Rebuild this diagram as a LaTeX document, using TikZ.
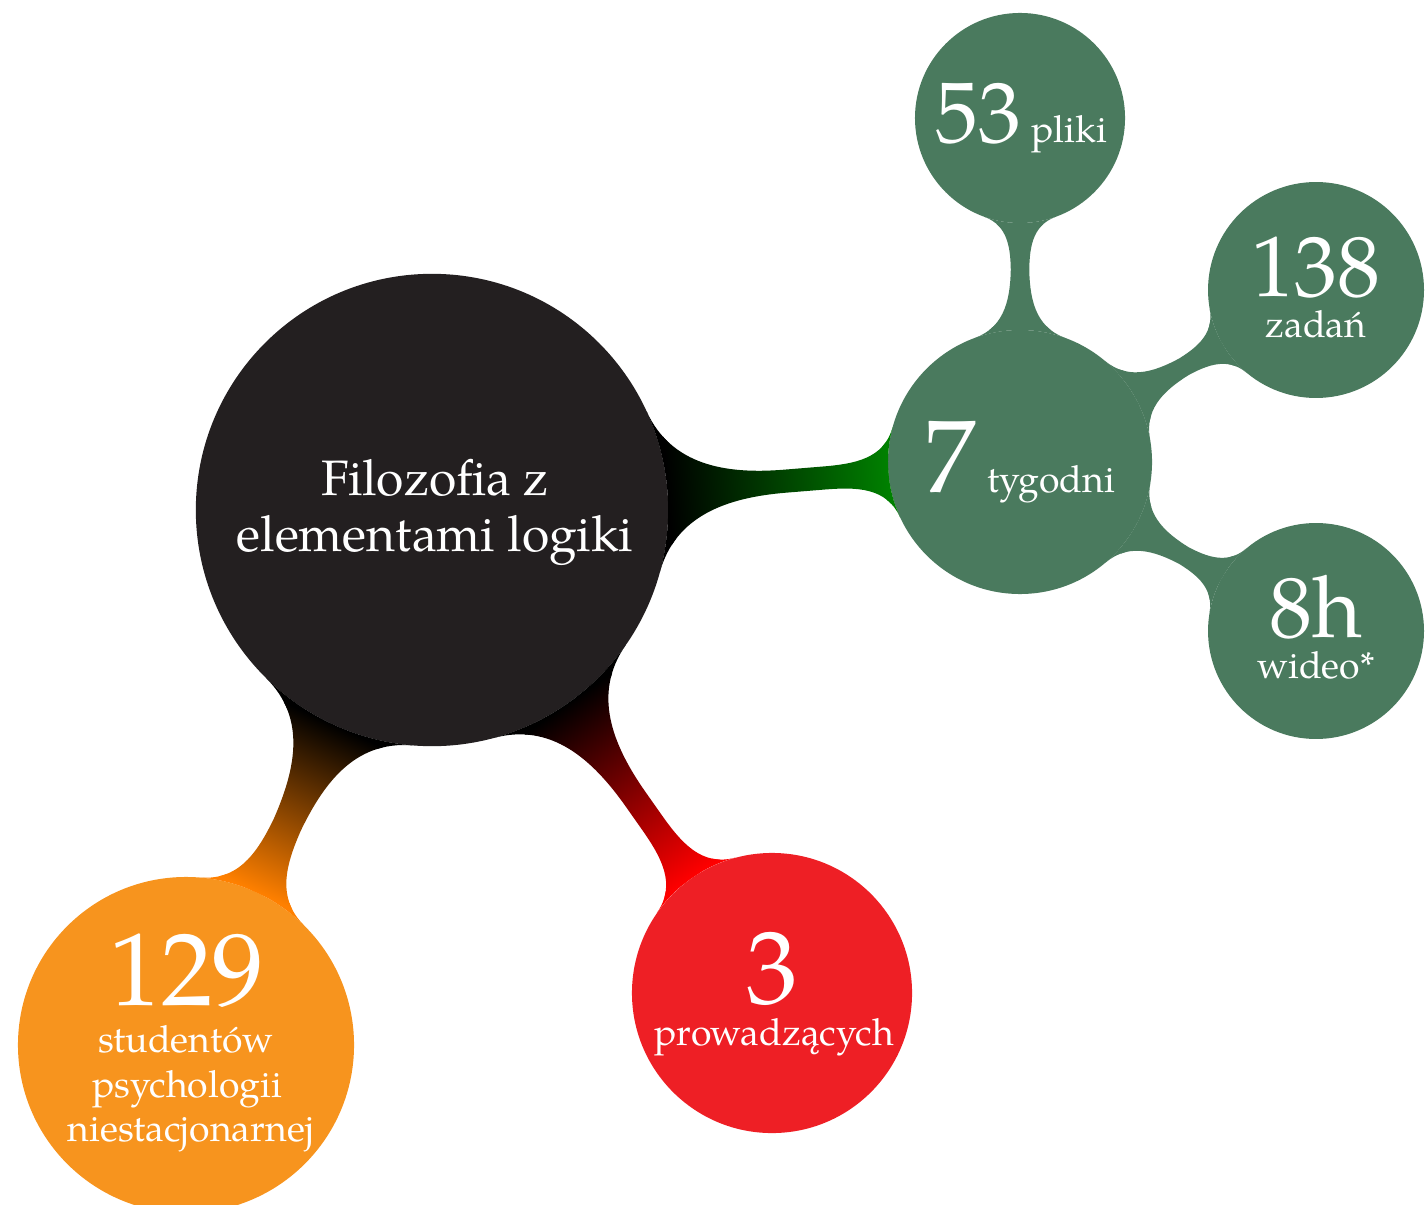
\documentclass[tikz,border=0pt]{standalone}
\usepackage{fontspec}
\setmainfont{TeX Gyre Pagella}
\usetikzlibrary{mindmap}
\definecolor{rootc}{HTML}{231F20}
\definecolor{greenc}{HTML}{4A7A5E}
\definecolor{orangec}{HTML}{F7941E}
\definecolor{redc}{HTML}{EE1F25}
\definecolor{bargreen}{RGB}{0,128,0}
\definecolor{barorange}{RGB}{255,128,0}
\definecolor{barred}{RGB}{255,0,0}
\begin{document}
\begin{tikzpicture}[x=0.00847cm,y=-0.00847cm,
  bubble/.style={circle, inner sep=0pt, outer sep=0pt, draw=none, text width=0pt},
  lbl/.style={text=white, anchor=base, inner sep=0pt},
  bigf/.style={font=\fontsize{24.9}{26}\selectfont},
  midf/.style={font=\fontsize{20.7}{22}\selectfont},
  smallf/.style={font=\fontsize{9}{11}\selectfont},
  rootf/.style={font=\fontsize{12}{14}\selectfont}]
\useasboundingbox (0,0) rectangle (1427,1204);
% bubbles
\node[bubble, fill=rootc, minimum size=4cm] (root) at (432,510) {};
\node[bubble, fill=greenc, minimum size=2.236cm] (week) at (1020,462) {};
\node[bubble, fill=greenc, minimum size=1.779cm] (pliki) at (1020,118) {};
\node[bubble, fill=greenc, minimum size=1.829cm] (zadan) at (1316,290) {};
\node[bubble, fill=greenc, minimum size=1.829cm] (wideo) at (1316,631) {};
\node[bubble, fill=orangec, minimum size=2.846cm] (stud) at (186,1045) {};
\node[bubble, fill=redc, minimum size=2.372cm] (prow) at (772,993) {};
% connections
\path (root) to[circle connection bar switch color=from (black) to (bargreen)] (week);
\path (root) to[circle connection bar switch color=from (black) to (barorange)] (stud);
\path (root) to[circle connection bar switch color=from (black) to (barred)] (prow);
\path (week) to[circle connection bar switch color=from (greenc) to (greenc)] (pliki);
\path (week) to[circle connection bar switch color=from (greenc) to (greenc)] (zadan);
\path (week) to[circle connection bar switch color=from (greenc) to (greenc)] (wideo);
% texts
\node[lbl, rootf] (rootT1) at (435,495) {Filozofia z};
\node[lbl, rootf] (rootT2) at (435,551) {elementami logiki};
\node[lbl] (weekT) at (1020,492) {{\fontsize{24.9}{26}\selectfont 7} {\fontsize{9}{11}\selectfont tygodni}};
\node[lbl] (plikiT) at (1021,143) {{\fontsize{20.7}{22}\selectfont 53} {\fontsize{9}{11}\selectfont pliki}};
\node[lbl, midf] (zadanN) at (1316,297) {138};
\node[lbl, smallf] (zadanT) at (1316,338) {zadań};
\node[lbl, midf] (wideoN) at (1316,637) {8h};
\node[lbl, smallf] (wideoT) at (1316,678) {wideo*};
\node[lbl, bigf] (studN) at (187,1005) {129};
\node[lbl, smallf] (studT1) at (186,1052) {studentów};
\node[lbl, smallf] (studT2) at (187,1097) {psychologii};
\node[lbl, smallf] (studT3) at (191,1141) {niestacjonarnej};
\node[lbl, bigf] (prowN) at (772,1003) {3};
\node[lbl, smallf] (prowT) at (774,1045) {prowadzących};
\end{tikzpicture}
\end{document}
